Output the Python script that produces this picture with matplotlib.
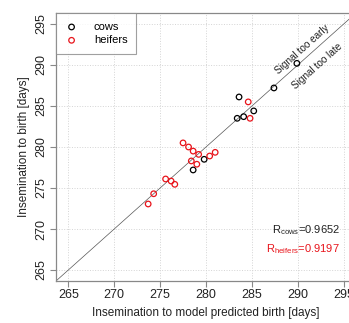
import matplotlib
matplotlib.use("Agg")
import matplotlib.pyplot as plt
import numpy as np

plt.rcParams['font.family'] = ['Liberation Sans', 'DejaVu Sans']

cows_x = [289.9, 287.4, 283.6, 285.2, 283.4, 284.1, 279.8, 278.6]
cows_y = [290.2, 287.2, 286.1, 284.4, 283.5, 283.7, 278.5, 277.2]
heifers_x = [284.6, 284.8, 277.5, 278.1, 278.6, 279.2, 280.4, 281.0, 278.4, 279.0, 275.6, 276.2, 276.6, 274.3, 273.7]
heifers_y = [285.5, 283.5, 280.5, 280.0, 279.5, 279.1, 278.9, 279.35, 278.3, 277.9, 276.1, 275.85, 275.45, 274.3, 273.05]
ticks = [265, 270, 275, 280, 285, 290, 295]
r_cows = "0.9652"
r_heifers = "0.9197"

W, H = 349, 323
fig = plt.figure(figsize=(W/100, H/100), dpi=100)
ax = fig.add_axes([56/W, (H-281)/H, (356-56)/W, (281-13)/H])
lo, hi = 263.66, 296.34
ax.set_xlim(lo, hi)
ax.set_ylim(lo, hi)
ax.plot([lo, hi], [lo, hi], color='#555555', lw=0.5, zorder=1)
ax.scatter(cows_x, cows_y, s=16, facecolors='none', edgecolors='black', linewidths=0.9, zorder=3, label='cows')
ax.scatter(heifers_x, heifers_y, s=16, facecolors='none', edgecolors='#e8141b', linewidths=0.9, zorder=3, label='heifers')

ax.set_xticks(ticks)
ax.set_yticks(ticks)
ax.set_yticklabels([str(t) for t in ticks], rotation=90, va='center')
ax.grid(True, color='#d4d4d4', linestyle=':', linewidth=0.7)
ax.set_axisbelow(True)
for sp in ax.spines.values():
    sp.set_color('#888888')
    sp.set_linewidth(0.9)
ax.tick_params(direction='out', length=4, width=0.8, color='#888888', labelsize=9, labelcolor='#222222', pad=2)

ax.set_xlabel('Insemination to model predicted birth [days]', fontsize=8.5, color='#222222', labelpad=4)
ax.set_ylabel('Insemination to birth [days]', fontsize=8.5, color='#222222', labelpad=4)

ang = np.degrees(np.arctan(268/300))
ax.text(290.5, 291.9, 'Signal too early', rotation=ang, rotation_mode='anchor', ha='center', va='center', fontsize=7.2, color='#222222')
ax.text(292.1, 289.9, 'Signal too late', rotation=ang, rotation_mode='anchor', ha='center', va='center', fontsize=7.2, color='#222222')

ax.text(294.6, 269.9, r'R$_{\mathregular{cows}}$=' + r_cows, ha='right', va='center', fontsize=8, color='#222222')
ax.text(294.6, 267.5, r'R$_{\mathregular{heifers}}$=' + r_heifers, ha='right', va='center', fontsize=8, color='#e8141b')

leg = ax.legend(loc='upper left', fontsize=8, frameon=True, fancybox=False, borderpad=0.8,
                handletextpad=1.4, handlelength=1.2, borderaxespad=0, labelspacing=0.3)
leg.get_frame().set_edgecolor('#888888')
leg.get_frame().set_linewidth(0.8)

fig.savefig('out.png', dpi=100)
